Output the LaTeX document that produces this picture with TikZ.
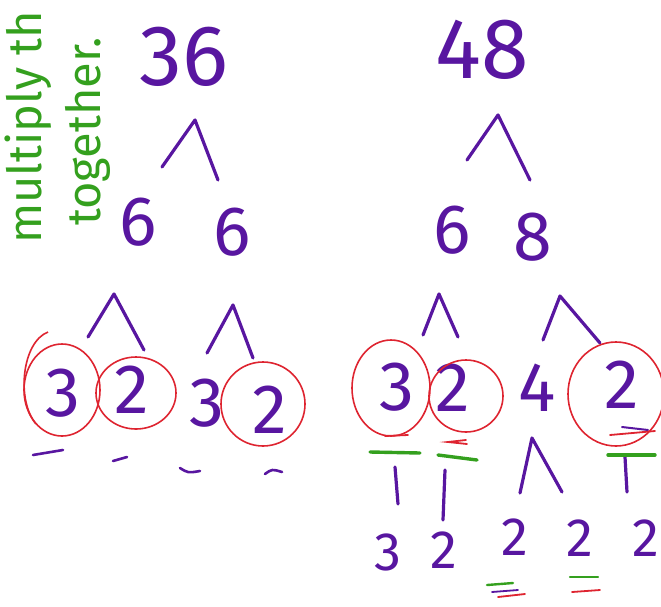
\documentclass[tikz,border=0pt]{standalone}
\usepackage{fontspec}
\setmainfont{Fira Sans}
\usetikzlibrary{positioning}
\definecolor{ink}{RGB}{88,22,160}
\definecolor{pen}{RGB}{222,36,48}
\definecolor{hl}{RGB}{52,160,30}

\begin{document}
\begin{tikzpicture}[x=1pt, y=-1pt,
    num/.style={text=ink, inner sep=0pt, font=\fontsize{70}{70}\selectfont},
    big/.style={num, font=\fontsize{86}{86}\selectfont},
    small/.style={num, font=\fontsize{54}{54}\selectfont},
    br/.style={draw=ink, line width=3.2pt, line cap=round, line join=round},
    ring/.style={draw=pen, line width=1.6pt},
    tick/.style={draw=ink, line width=2.6pt, line cap=round},
    gbar/.style={draw=hl, line width=3.4pt, line cap=round},
    rbar/.style={draw=pen, line width=1.8pt, line cap=round},
    note/.style={text=hl, inner sep=0pt, rotate=90, anchor=west,
                 font=\fontsize{47}{47}\selectfont}]
  \useasboundingbox (0,0) rectangle (661,606);

  % note
  \node[note] (mul) at (28,244) {multiply th};
  \node[note] (tog) at (88,226) {together.};

  % top numbers
  \node[big] (n36) at (184,57) {36};
  \node[big] (n48) at (482,50) {48};

  % second row
  \node[num] (l6a) at (138,222) {6};
  \node[num] (l6b) at (232,232) {6};
  \node[num] (r6)  at (452,230) {6};
  \node[num] (r8)  at (533,237) {8};

  % third row
  \node[num] (a3) at (63,393)  {3};
  \node[num] (a2) at (132,390) {2};
  \node[num] (b3) at (207,403) {3};
  \node[num] (b2) at (270,410) {2};
  \node[num] (c3) at (397,387) {3};
  \node[num] (c2) at (453,388) {2};
  \node[num] (d4) at (537,388) {4};
  \node[num] (d2) at (622,385) {2};

  % last row
  \node[small] (e3)  at (388,552) {3};
  \node[small] (e2)  at (444,550) {2};
  \node[small] (f2a) at (515,537) {2};
  \node[small] (f2b) at (580,538) {2};
  \node[small] (g2)  at (646,538) {2};

  % branches
  \coordinate (k36) at (195,120);
  \coordinate (k48) at (498,115);
  \coordinate (k6a) at (114,294);
  \coordinate (k6b) at (233,305);
  \coordinate (k6)  at (439,294);
  \coordinate (k8)  at (560,296);
  \coordinate (k4)  at (532,438);
  \draw[br] (162,167) -- (k36) -- (218,180);
  \draw[br] (467,160) -- (k48) -- (530,180);
  \draw[br] (88,337) -- (k6a) -- (144,350);
  \draw[br] (207,353) -- (k6b) -- (253,358);
  \draw[br] (423,335) -- (k6) -- (458,337);
  \draw[br] (543,340) -- (k8) -- (600,343);
  \draw[br] (520,493) -- (k4) -- (562,492);
  \draw[br] (c3) ++(-2,80) -- ++(3,37);
  \draw[br] (c2) ++(-8,82) -- ++(-2,50);
  \draw[br] (d2) ++(3,72) -- ++(2,35);

  % circles
  \draw[ring] (a3) ++(-1,-3) ellipse [x radius=38, y radius=46];
  \draw[ring] (48,332) .. controls (22,342) and (16,400) .. (36,424);
  \draw[ring] (a2) ++(4,3) ellipse [x radius=40, y radius=36];
  \draw[ring] (b2) ++(-7,-6) circle [radius=42];
  \draw[ring] (c3) ++(-6,1) ellipse [x radius=39, y radius=48];
  \draw[ring] (c2) ++(13,8) ellipse [x radius=37, y radius=36];
  \draw[ring] (d2) ++(-6,9) ellipse [x radius=48, y radius=52];

  % ticks
  \draw[tick] (33,455) -- (63,450);
  \draw[tick] (113,461) -- (127,457);
  \draw[tick] (180,468) .. controls (188,473) .. (200,471);
  \draw[tick] (265,474) .. controls (272,469) .. (282,472);

  % marks under the primes
  \draw[rbar] (385,436) -- (408,435);
  \draw[gbar] (370,452) -- (420,453);
  \draw[rbar] (466,440) -- (448,442) -- (467,444);
  \draw[gbar] (438,455) -- (477,460);
  \draw[tick, line width=2pt] (622,427) -- (648,430);
  \draw[rbar] (610,435) -- (655,431);
  \draw[gbar] (608,455) -- (655,455);
  \draw[gbar, line width=2.4pt] (487,585) -- (513,583);
  \draw[rbar] (498,597) -- (525,594);
  \draw[tick, line width=1.8pt] (492,592) -- (518,590);
  \draw[gbar, line width=2.4pt] (570,577) -- (598,577);
  \draw[rbar] (572,592) -- (600,590);
\end{tikzpicture}
\end{document}
